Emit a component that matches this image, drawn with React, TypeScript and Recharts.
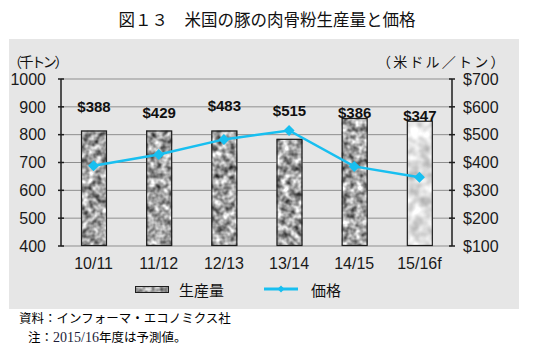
import React from 'react';
import { ComposedChart, Bar, Line, XAxis, YAxis, CartesianGrid, Legend } from 'recharts';

// chart data
const categories = ['10/11', '11/12', '12/13', '13/14', '14/15', '15/16f'];
const production = [815, 815, 815, 785, 860, 850]; // 千トン
const prices = [388, 429, 483, 515, 386, 347]; // 米ドル/トン
const leftTicks = [400, 500, 600, 700, 800, 900, 1000];
const rightTicks = [100, 200, 300, 400, 500, 600, 700];
const edgeTicks = [0, 1, 2, 3, 4, 5, 6];

// how far each price label sits above its bar (px), as in the original layout
const labelRaise = [24, 18, 25, 28, 5, 5];

const CJK = '"Noto Sans CJK JP", "Noto Sans", sans-serif';
const ARIAL = '"Liberation Sans", Arial, sans-serif';
const LINE_COLOR = '#18bff0';

const data = categories.map((name, i) => ({
  name,
  production: production[i],
  price: prices[i],
  forecast: name.endsWith('f')
}));

function GraniteBar(props: any) {
  const { x, y, width, height, index, payload } = props;
  const tex = payload && payload.forecast ? 'url(#graniteLight)' : 'url(#granite)';
  return (
    <g>
      <rect x={x} y={y} width={width} height={height} fill="#999" filter={tex} />
      <rect x={x + 0.5} y={y + 0.5} width={width - 1} height={height - 1} fill="none" stroke="#1e1e1e" strokeWidth={1.2} />
      <text x={x + width / 2} y={y - labelRaise[index]} textAnchor="middle" dominantBaseline="central"
        fontFamily={ARIAL} fontWeight="bold" fontSize={15} fill="#111">
        ${prices[index]}
      </text>
    </g>
  );
}

function Diamond(props: any) {
  const { cx, cy, index } = props;
  const r = 5.5;
  return <polygon key={'d' + index} points={`${cx},${cy - r} ${cx + r},${cy} ${cx},${cy + r} ${cx - r},${cy}`} fill={LINE_COLOR} />;
}

function LegendBox() {
  return (
    <div style={{ display: 'flex', alignItems: 'center', height: 20, paddingLeft: 126, fontFamily: CJK, fontSize: 15, color: '#111' }}>
      <svg width={34} height={7} style={{ display: 'block' }}>
        <rect x={0} y={0} width={34} height={7} fill="#999" filter="url(#granite)" />
        <rect x={0.5} y={0.5} width={33} height={6} fill="none" stroke="#1e1e1e" />
      </svg>
      <span style={{ marginLeft: 10 }}>生産量</span>
      <svg width={34} height={12} style={{ display: 'block', marginLeft: 40 }}>
        <line x1={0} y1={6} x2={34} y2={6} stroke={LINE_COLOR} strokeWidth={3} />
        <polygon points="17,2.5 20.5,6 17,9.5 13.5,6" fill={LINE_COLOR} />
      </svg>
      <span style={{ marginLeft: 13 }}>価格</span>
    </div>
  );
}

export default function App() {
  return (
    <div style={{ position: 'absolute', left: 0, top: 0, width: 534, height: 352, background: '#fff', overflow: 'hidden' }}>
      <div style={{ position: 'absolute', left: 0, top: 7, width: 534, textAlign: 'center', fontFamily: CJK, fontSize: 16.5, color: '#111', lineHeight: '24px' }}>
        図１３　米国の豚の肉骨粉生産量と価格
      </div>
      <div style={{ position: 'absolute', left: 9, top: 39, width: 510, height: 270, background: '#e6e6e6' }}>
        <ComposedChart width={510} height={270} data={data} margin={{ top: 40, right: 0, bottom: 10, left: 0 }}>
          <defs>
            <filter id="granite" x="0" y="0" width="1" height="1" colorInterpolationFilters="sRGB">
              <feTurbulence type="fractalNoise" baseFrequency="0.15" numOctaves={2} seed={7} result="noise" />
              <feColorMatrix in="noise" type="matrix"
                values="1.35 0 0 0 -0.04  1.35 0 0 0 -0.04  1.35 0 0 0 -0.04  0 0 0 0 1" result="gray" />
              <feComposite in="gray" in2="SourceGraphic" operator="in" />
            </filter>
            <filter id="graniteLight" x="0" y="0" width="1" height="1" colorInterpolationFilters="sRGB">
              <feTurbulence type="fractalNoise" baseFrequency="0.09" numOctaves={2} seed={3} result="noise" />
              <feColorMatrix in="noise" type="matrix"
                values="0.55 0 0 0 0.6  0.55 0 0 0 0.6  0.55 0 0 0 0.6  0 0 0 0 1" result="gray" />
              <feComposite in="gray" in2="SourceGraphic" operator="in" />
            </filter>
          </defs>
          <CartesianGrid xAxisId="cat" yAxisId="left" vertical={false} stroke="#8f8f8f" strokeWidth={1} />
          <XAxis xAxisId="edges" type="number" domain={[0, 6]} ticks={edgeTicks} height={0} tickFormatter={() => ''}
            axisLine={{ stroke: '#1e1e1e', strokeWidth: 1.5 }} tickSize={6}
            tickLine={{ stroke: '#1e1e1e', strokeWidth: 1.5, transform: 'translate(0,-3)' }} />
          <XAxis xAxisId="cat" dataKey="name" height={33} axisLine={false} tickLine={false} tickSize={6} tickMargin={6}
            tick={{ fontFamily: ARIAL, fontSize: 16, fill: '#1a1a1a' }} interval={0} />
          <YAxis yAxisId="left" width={52} domain={[400, 1000]} ticks={leftTicks} tickSize={6} tickMargin={9}
            axisLine={{ stroke: '#1e1e1e', strokeWidth: 1.5 }}
            tickLine={{ stroke: '#1e1e1e', strokeWidth: 1.5, transform: 'translate(3,0)' }}
            tick={{ fontFamily: ARIAL, fontSize: 16, fill: '#1a1a1a' }} />
          <YAxis yAxisId="right" orientation="right" width={67} domain={[100, 700]} ticks={rightTicks} tickSize={6} tickMargin={5}
            axisLine={{ stroke: '#1e1e1e', strokeWidth: 1.5 }}
            tickLine={{ stroke: '#1e1e1e', strokeWidth: 1.5, transform: 'translate(-3,0)' }}
            tickFormatter={(v: number) => `$${v}`}
            tick={{ fontFamily: ARIAL, fontSize: 16, fill: '#1a1a1a' }} />
          <Legend verticalAlign="bottom" content={() => <LegendBox />} wrapperStyle={{ left: 0, width: 510 }} />
          <Bar xAxisId="cat" yAxisId="left" dataKey="production" name="生産量" barSize={26} shape={<GraniteBar />} isAnimationActive={false} />
          <Line xAxisId="cat" yAxisId="right" dataKey="price" name="価格" type="linear" stroke={LINE_COLOR} strokeWidth={2.5}
            dot={(p: any) => <Diamond key={'dot' + p.index} {...p} />} activeDot={false} isAnimationActive={false} />
        </ComposedChart>
      </div>
      <div style={{ position: 'absolute', left: 8, top: 53, fontFamily: CJK, fontSize: 14, letterSpacing: -2.4, color: '#111', lineHeight: '16px' }}>
        （千トン）
      </div>
      <div style={{ position: 'absolute', left: 377, top: 53, fontFamily: CJK, fontSize: 14, letterSpacing: 2.2, color: '#111', lineHeight: '16px' }}>
        （米ドル／トン）
      </div>
      <div style={{ position: 'absolute', left: 19, top: 310, fontFamily: CJK, fontSize: 12.5, color: '#000', lineHeight: '16px' }}>
        資料：インフォーマ・エコノミクス社
      </div>
      <div style={{ position: 'absolute', left: 28, top: 329, fontFamily: CJK, fontSize: 12.5, color: '#000', lineHeight: '16px' }}>
        注：<span style={{ fontFamily: '"Liberation Serif", serif', fontSize: 14, color: '#1d1d3a' }}>2015/16</span>年度は予測値。
      </div>
    </div>
  );
}
